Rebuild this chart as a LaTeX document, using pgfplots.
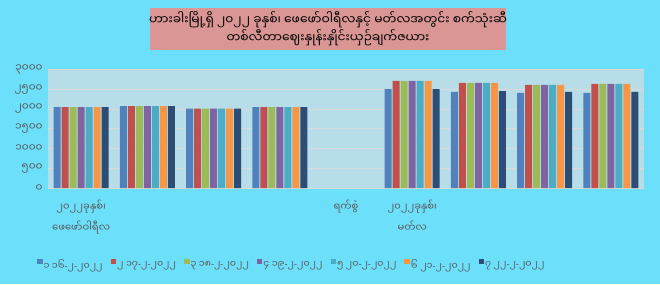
\documentclass[border=0pt]{standalone}
\usepackage{fontspec}
\usepackage{pgfplots}
\usepackage{pgfplotstable}
\pgfplotsset{compat=1.18}
\newfontfamily\mm[Script=Myanmar]{Noto Sans Myanmar UI}
\newfontfamily\ns{Noto Sans}
\newcommand\hy{{\ns -}}
\definecolor{bgout}{HTML}{6CDFFA}
\definecolor{plotbg}{HTML}{B7DDE8}
\definecolor{titlebg}{HTML}{D99694}
\definecolor{txt}{HTML}{595959}
\definecolor{gridc}{HTML}{D9D9D9}
\definecolor{s1}{HTML}{4F81BD}
\definecolor{s2}{HTML}{C0504D}
\definecolor{s3}{HTML}{9BBB59}
\definecolor{s4}{HTML}{8064A2}
\definecolor{s5}{HTML}{4BACC6}
\definecolor{s6}{HTML}{F79646}
\definecolor{s7}{HTML}{2C4D75}
\pgfplotstableread{
x a b c d e f g
1 2050 2050 2050 2050 2050 2050 2050
2 2075 2075 2075 2075 2075 2075 2075
3 2010 2010 2010 2010 2010 2010 2010
4 2050 2050 2050 2050 2050 2050 2050
6 2505 2710 2710 2710 2710 2710 2505
7 2435 2660 2660 2660 2660 2660 2455
8 2410 2610 2610 2610 2610 2610 2435
9 2410 2635 2635 2635 2635 2635 2435
}\prices
\begin{document}
\begin{tikzpicture}
\fill[bgout] (0,0) rectangle (660pt,284pt);
\useasboundingbox (0,0) rectangle (660pt,284pt);
\fill[titlebg] (150pt,234pt) rectangle (506pt,276pt);
\node[align=center, font=\mm\fontsize{12.3}{18}\selectfont, text=black] at (328pt,255pt)
 {ဟားခါးမြို့ရှိ ၂၀၂၂ ခုနှစ်၊ ဖေဖော်ဝါရီလနှင့် မတ်လအတွင်း စက်သုံးဆီ\\တစ်လီတာဈေးနှုန်းနှိုင်းယှဉ်ချက်ဇယား};
\begin{axis}[
  at={(48pt,96pt)}, anchor=south west,
  scale only axis, width=596pt, height=118.5pt,
  axis background/.style={fill=plotbg},
  ybar=1pt, bar width=7pt,
  xmin=0.5, xmax=9.5, ymin=0, ymax=3000,
  ytick={0,500,1000,1500,2000,2500,3000},
  yticklabels={၀,၅၀၀,၁၀၀၀,၁၅၀၀,၂၀၀၀,၂၅၀၀,၃၀၀၀},
  xtick={1,5,6},
  xticklabels={{၂၀၂၂ခုနှစ်၊\\ဖေဖော်ဝါရီလ},{ရက်စွဲ},{၂၀၂၂ခုနှစ်၊\\မတ်လ}},
  xticklabel style={align=center, anchor=north, yshift=-8pt, font=\mm\fontsize{10}{21}\selectfont, text=txt},
  yticklabel style={font=\mm\fontsize{10.5}{11}\selectfont, text=txt, xshift=-2pt},
  major tick length=0pt,
  ymajorgrids, grid style={gridc, line width=0.8pt},
  axis line style={draw=none},
  legend columns=7,
  legend style={at={(axis description cs:0.409,-0.65)}, anchor=center, draw=none, fill=none,
    font=\mm\fontsize{9.5}{11}\selectfont, text=txt,
    /tikz/every even column/.style={column sep=6pt},
    /tikz/every odd column/.style={column sep=-1pt}},
  legend image code/.code={\fill[#1] (0pt,1pt) rectangle (5.5pt,6.5pt);},
]
\addplot[fill=s1, draw=none] table[x=x,y=a]{\prices};
\addplot[fill=s2, draw=none] table[x=x,y=b]{\prices};
\addplot[fill=s3, draw=none] table[x=x,y=c]{\prices};
\addplot[fill=s4, draw=none] table[x=x,y=d]{\prices};
\addplot[fill=s5, draw=none] table[x=x,y=e]{\prices};
\addplot[fill=s6, draw=none] table[x=x,y=f]{\prices};
\addplot[fill=s7, draw=none] table[x=x,y=g]{\prices};
\legend{၁ ၁၆\hy၂\hy၂၀၂၂,၂ ၁၇\hy၂\hy၂၀၂၂,၃ ၁၈\hy၂\hy၂၀၂၂,၄ ၁၉\hy၂\hy၂၀၂၂,၅ ၂၀\hy၂\hy၂၀၂၂,၆ ၂၁\hy၂\hy၂၀၂၂,၇ ၂၂\hy၂\hy၂၀၂၂}
\end{axis}
\end{tikzpicture}
\end{document}
